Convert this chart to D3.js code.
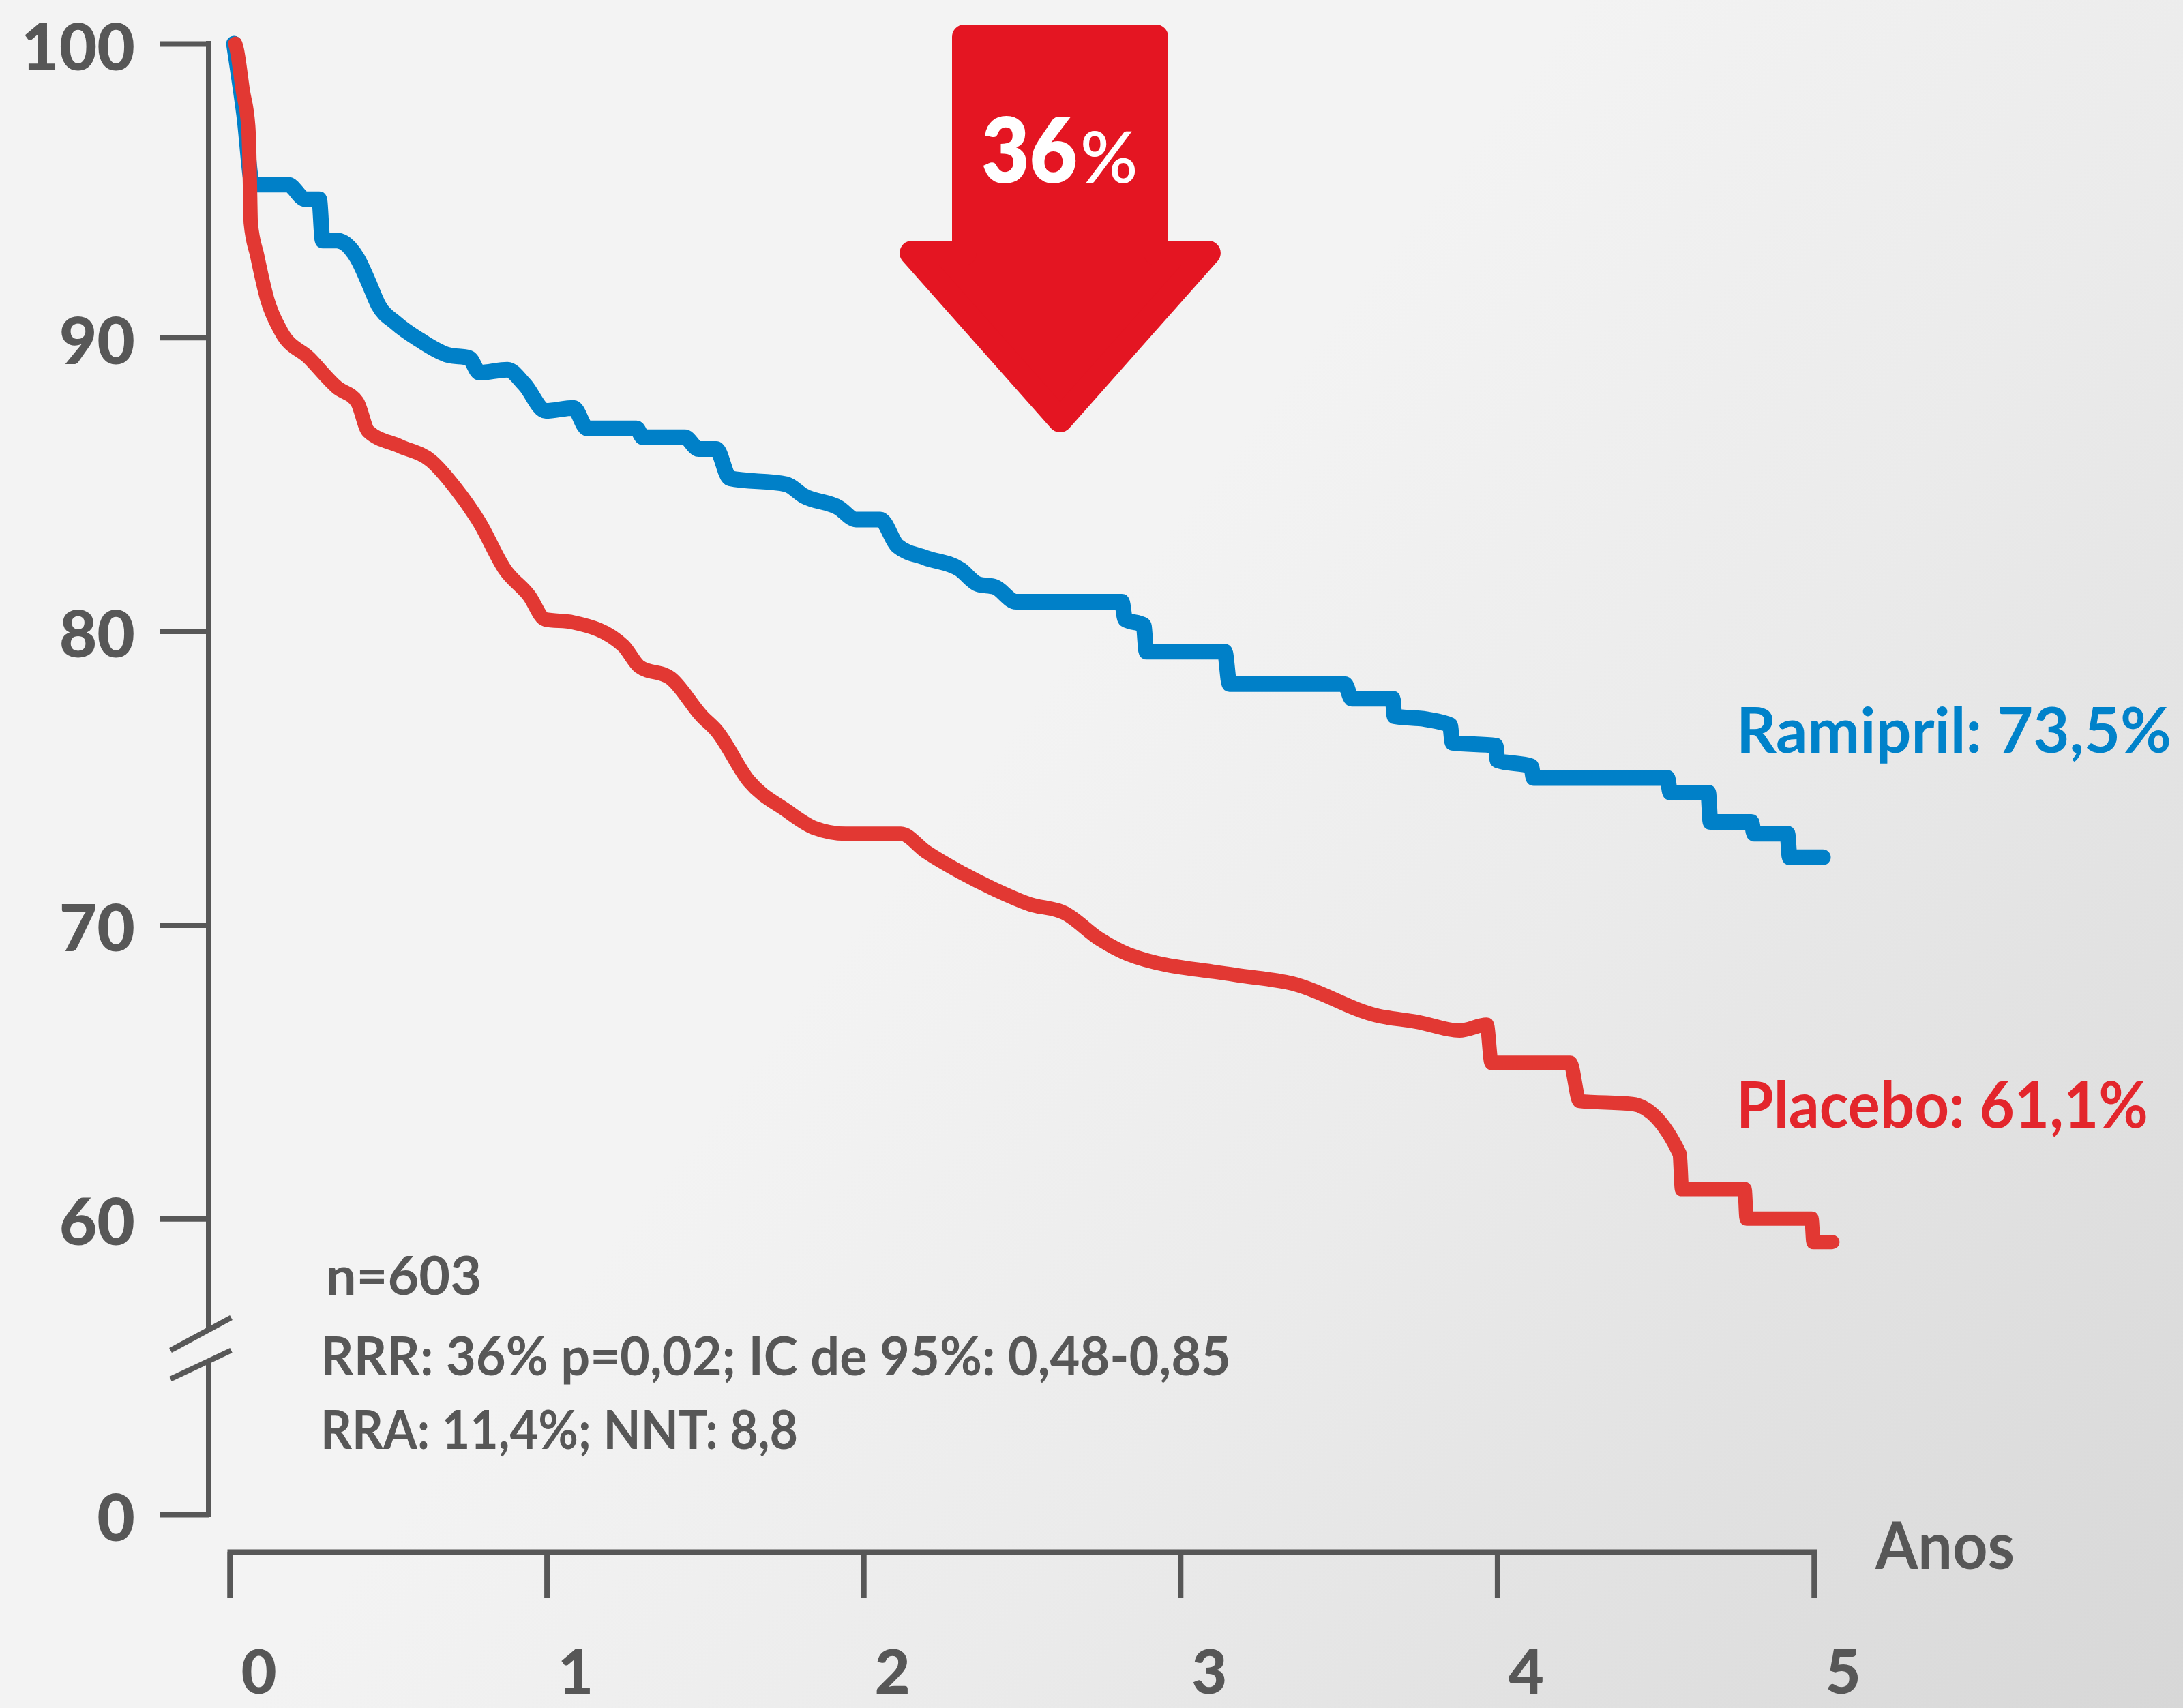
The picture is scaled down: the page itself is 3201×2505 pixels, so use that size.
<!DOCTYPE html>
<html>
<head>
<meta charset="utf-8">
<script src="https://cdn.jsdelivr.net/npm/d3@7"></script>
<style>
html,body{margin:0;padding:0;background:#f3f3f3;}
svg{display:block;}
text{font-family:Lato,"Open Sans","Noto Sans",sans-serif;}
</style>
</head>
<body>
<script>
// ---------- DATA ----------
const yTickValues = [0, 60, 70, 80, 90, 100];
const xTickValues = [0, 1, 2, 3, 4, 5];
const xTickLabels = ["0", "1", "2", "3", "4", "5"];
const xAxisTitle = "Anos";

const ramiprilTime = [0.013,0.045,0.072,0.183,0.239,0.282,0.293,0.338,0.402,0.437,0.469,0.523,0.601,0.689,0.755,0.788,0.876,0.930,0.997,1.085,1.128,1.283,1.304,1.436,1.479,1.535,1.578,1.756,1.812,1.922,1.976,2.053,2.107,2.195,2.305,2.361,2.415,2.482,2.815,2.826,2.884,2.893,3.140,3.155,3.519,3.541,3.670,3.676,3.775,3.851,3.859,3.995,4.001,4.107,4.115,4.537,4.546,4.666,4.673,4.802,4.811,4.916,4.923,5.028];
const ramiprilSurv = [100,97.6,95.2,95.2,94.7,94.7,93.3,93.3,92.7,91.9,91.1,90.5,89.9,89.4,89.3,88.8,88.9,88.4,87.5,87.6,86.9,86.9,86.6,86.6,86.2,86.2,85.2,85.0,84.6,84.2,83.8,83.8,82.9,82.5,82.1,81.6,81.5,81.0,81.0,80.4,80.2,79.3,79.3,78.2,78.2,77.7,77.7,77.1,77.0,76.8,76.2,76.1,75.6,75.4,75.0,75.0,74.5,74.5,73.5,73.5,73.1,73.1,72.3,72.3];

const placeboTime = [0.017,0.022,0.041,0.058,0.062,0.064,0.066,0.086,0.118,0.162,0.250,0.338,0.402,0.437,0.536,0.635,0.710,0.788,0.868,0.945,0.995,1.083,1.242,1.292,1.391,1.490,1.537,1.638,1.756,1.845,1.944,2.118,2.196,2.305,2.415,2.525,2.635,2.747,2.835,3.171,3.354,3.625,3.746,3.881,3.967,3.982,4.230,4.260,4.426,4.576,4.583,4.781,4.787,4.992,4.998,5.058];
const placeboSurv = [100,99.8,98.4,97.2,96.0,94.9,93.9,92.8,91.3,90.2,89.3,88.3,87.8,86.8,86.3,85.8,84.9,83.7,82.1,81.2,80.4,80.3,79.5,78.8,78.4,77.1,76.6,74.9,73.9,73.3,73.1,73.1,72.5,71.8,71.2,70.7,70.4,69.5,69.0,68.3,68.0,66.9,66.7,66.4,66.6,65.3,65.3,64.0,63.9,62.2,61.0,61.0,60.0,60.0,59.2,59.2];

const seriesLabels = ["Ramipril: 73,5%", "Placebo: 61,1%"];
const arrowValue = "36";
const arrowUnit = "%";
const statLines = ["n=603", "RRR: 36% p=0,02; IC de 95%: 0,48-0,85", "RRA: 11,4%; NNT: 8,8"];

// ---------- LAYOUT ----------
(function () {
const W = 3201, H = 2505;
const axisColor = "#575757";
const blue = "#0080c8", red = "#e23833", arrowRed = "#e41522";

const svg = d3.select("body").append("svg").attr("width", W).attr("height", H);

const defs = svg.append("defs");
const bg = defs.append("linearGradient").attr("id","bg")
  .attr("gradientUnits","userSpaceOnUse").attr("x1",0).attr("y1",0).attr("x2",W).attr("y2",H);
bg.append("stop").attr("offset",0).attr("stop-color","#f3f3f3");
bg.append("stop").attr("offset",0.45).attr("stop-color","#f3f3f3");
bg.append("stop").attr("offset",0.65).attr("stop-color","#ebebeb");
bg.append("stop").attr("offset",1).attr("stop-color","#d7d7d7");
svg.append("rect").attr("width",W).attr("height",H).attr("fill","url(#bg)");

const x = d3.scaleLinear().domain([0, 5]).range([337, 2660]);
const y = d3.scaleLinear().domain([0, 56, 100]).range([2221, 1959.5, 64]);
const axisX = 306;
const xAxisY = 2276;

// Y axis
const yAxis = d3.axisLeft(y).tickValues(yTickValues).tickSize(71).tickPadding(37).tickFormat(d3.format("d"));
const gy = svg.append("g").attr("transform", `translate(${axisX},0)`).call(yAxis);
gy.select(".domain").remove();
gy.selectAll(".tick line").attr("stroke", axisColor).attr("stroke-width", 8);
gy.selectAll(".tick text").attr("fill", axisColor).attr("font-size", 96).attr("font-weight", 900)
  .attr("font-family", "Lato, 'Open Sans', sans-serif").attr("dy", "0.40em");

// y axis line with break
const breakY = y(56) + 14;
svg.append("line").attr("x1", axisX).attr("x2", axisX).attr("y1", y(100) - 4).attr("y2", breakY - 23)
  .attr("stroke", axisColor).attr("stroke-width", 8);
svg.append("line").attr("x1", axisX).attr("x2", axisX).attr("y1", breakY + 23).attr("y2", y(0) + 4)
  .attr("stroke", axisColor).attr("stroke-width", 8);
svg.append("line").attr("x1", axisX - 56).attr("y1", breakY + 7).attr("x2", axisX + 33).attr("y2", breakY - 41)
  .attr("stroke", axisColor).attr("stroke-width", 8);
svg.append("line").attr("x1", axisX - 56).attr("y1", breakY + 49).attr("x2", axisX + 33).attr("y2", breakY + 7)
  .attr("stroke", axisColor).attr("stroke-width", 8);

// X axis
const xAxis = d3.axisBottom(x).tickValues(xTickValues).tickSize(68).tickSizeOuter(68).tickPadding(76)
  .tickFormat((d, i) => xTickLabels[i]);
const gx = svg.append("g").attr("transform", `translate(0,${xAxisY})`).call(xAxis);
gx.select(".domain").attr("stroke", axisColor).attr("stroke-width", 8).attr("fill", "none");
gx.selectAll(".tick line").attr("stroke", axisColor).attr("stroke-width", 8);
gx.selectAll(".tick text").attr("fill", axisColor).attr("font-size", 90).attr("font-weight", 900)
  .attr("font-family", "Lato, 'Open Sans', sans-serif").attr("dx", 42);

svg.append("text").attr("x", 2750).attr("y", 2301).text(xAxisTitle)
  .attr("fill", axisColor).attr("font-size", 96).attr("font-weight", 700)
  .attr("textLength", 204).attr("lengthAdjust", "spacingAndGlyphs");

// Curves
const line = d3.line().x(d => x(d[0])).y(d => y(d[1])).curve(d3.curveMonotoneX);
const ramipril = ramiprilTime.map((t, i) => [t, ramiprilSurv[i]]);
const placebo = placeboTime.map((t, i) => [t, placeboSurv[i]]);

svg.append("path").datum(ramipril).attr("d", line).attr("fill", "none")
  .attr("stroke", blue).attr("stroke-width", 23).attr("stroke-linejoin", "round").attr("stroke-linecap", "round");
svg.append("path").datum(placebo).attr("d", line).attr("fill", "none")
  .attr("stroke", red).attr("stroke-width", 21).attr("stroke-linejoin", "round").attr("stroke-linecap", "round");

// Series labels
svg.append("text").attr("x", 2546).attr("y", 1104).text(seriesLabels[0])
  .attr("fill", "#0082ca").attr("font-size", 92).attr("font-weight", 700)
  .attr("textLength", 638).attr("lengthAdjust", "spacingAndGlyphs");
svg.append("text").attr("x", 2546).attr("y", 1654).text(seriesLabels[1])
  .attr("fill", "#e3262c").attr("font-size", 94).attr("font-weight", 700)
  .attr("textLength", 604).attr("lengthAdjust", "spacingAndGlyphs");

// Stats text
const statPos = [[478, 1899, 228], [470, 2017, 1335], [470, 2125, 700]];
statLines.forEach((s, i) => {
  svg.append("text").attr("x", statPos[i][0]).attr("y", statPos[i][1]).text(s)
    .attr("fill", axisColor).attr("font-size", 78).attr("font-weight", 700)
    .attr("textLength", statPos[i][2]).attr("lengthAdjust", "spacingAndGlyphs");
});

// Arrow
const cx = 1554.5, r = 18;
const shaftHW = 158.5 - r, headHW = 239 - r * 1.2, arTop = 36 + r, shoulder = 353 + r, tip = 643 - r * 1.5;
const arrowPts = [[cx - shaftHW, arTop], [cx + shaftHW, arTop], [cx + shaftHW, shoulder], [cx + headHW, shoulder],
  [cx, tip], [cx - headHW, shoulder], [cx - shaftHW, shoulder]];
svg.append("path").attr("d", "M" + arrowPts.map(p => p.join(",")).join("L") + "Z")
  .attr("fill", arrowRed).attr("stroke", arrowRed).attr("stroke-width", 2 * r).attr("stroke-linejoin", "round");

const at = svg.append("text").attr("x", 1439).attr("y", 268).attr("fill", "#ffffff");
at.append("tspan").text(arrowValue).attr("font-size", 132).attr("font-weight", 800)
  .attr("textLength", 141).attr("lengthAdjust", "spacingAndGlyphs");
at.append("tspan").text(arrowUnit).attr("font-size", 104).attr("font-weight", 600).attr("dx", 4);
})();
</script>
</body>
</html>
